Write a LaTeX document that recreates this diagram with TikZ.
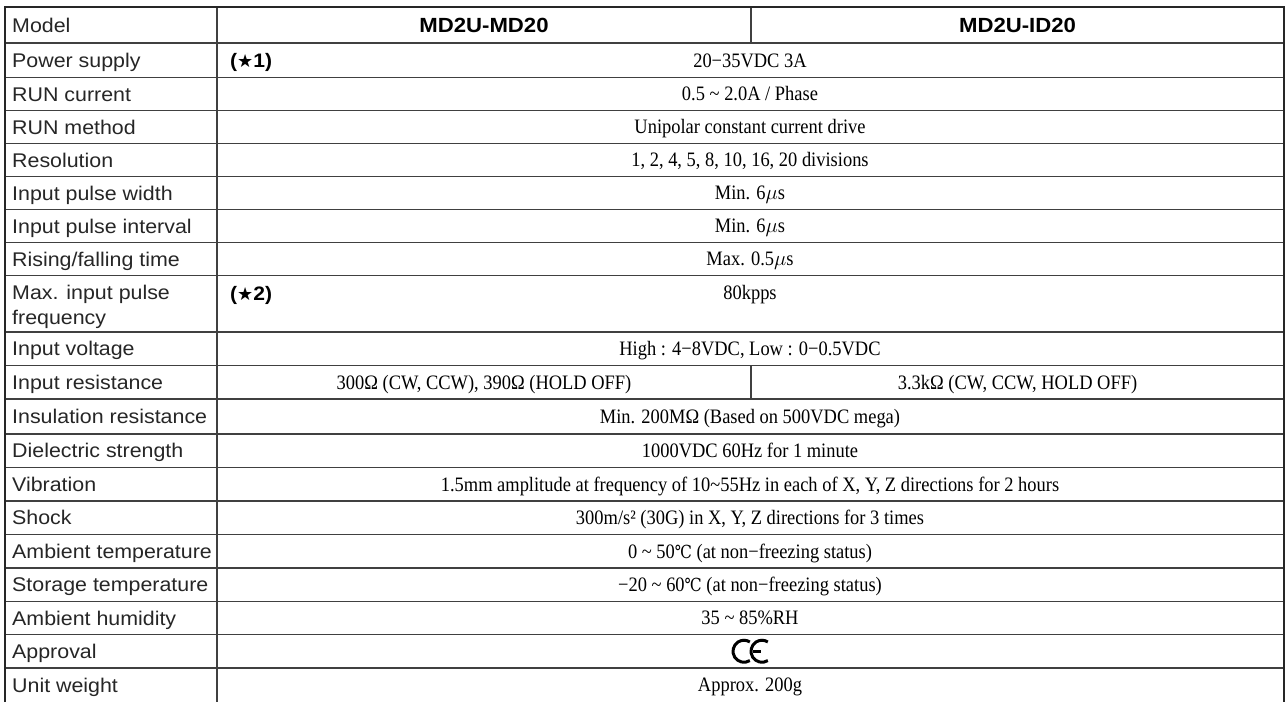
\documentclass[tikz,border=0pt]{standalone}
\usepackage{fontspec}
\setmainfont{Liberation Serif}[FakeStretch=0.9]
\setsansfont{Liberation Sans}[FakeStretch=1.08]
\newfontfamily\symbfont{DejaVu Sans}
\newfontfamily\degfont{DejaVu Serif}[FakeStretch=0.85]
\usetikzlibrary{positioning}
\tikzstyle{rowname} = [anchor=base west, yshift=-7pt, inner sep=0pt, align=left, font=\sffamily\fontsize{19.8}{24}\selectfont, text=black!85]
\tikzstyle{valtext} = [anchor=base, yshift=-6.8pt, inner sep=0pt, font=\fontsize{20.5}{24}\selectfont]
\tikzstyle{headtext} = [anchor=base, yshift=-7.5pt, inner sep=0pt, font=\sffamily\bfseries\fontsize{20.5}{24}\selectfont]
\tikzstyle{note} = [anchor=base west, yshift=-7pt, inner sep=0pt, font=\sffamily\bfseries\fontsize{19.5}{24}\selectfont]
\tikzstyle{gridline} = [draw=black!75, line width=1.4pt]
\tikzstyle{frame} = [draw=black!85, line width=2.6pt]
\newcommand{\degc}{{\degfont\fontsize{18}{20}\selectfont ℃}}
\newcommand{\usec}{$\mu$s}
\newcommand{\starno}[1]{({\symbfont\bfseries\fontsize{18}{20}\selectfont ★}#1)}

\begin{document}
\begin{tikzpicture}[x=1pt, y=-1pt]
\useasboundingbox (0,0) rectangle (1288,702);
% grid
\foreach \yy in {43,77.5,110.5,143.5,176.5,209.5,242.5,275.5,332,365.5,399,434,467.5,501,534.5,568,601.5,634.5,668}
  \draw [gridline] (5,\yy) -- (1284,\yy);
\draw [gridline] (217,7) -- (217,702);
\draw [gridline] (751,7) -- (751,43);
\draw [gridline] (751,365.5) -- (751,399);
\draw [frame] (5,702) -- (5,7) -- (1284,7) -- (1284,702);

% left column
\foreach \name/\yy [count=\i] in {{Model}/25, {Power supply}/60.25, {RUN current}/94, {RUN method}/127,
    {Resolution}/160, {Input pulse width}/193, {Input pulse interval}/226, {Rising/falling time}/259,
    {Input voltage}/348.75, {Input resistance}/382.25,
    {Insulation resistance}/416.5, {Dielectric strength}/450.75, {Vibration}/484.25, {Shock}/517.75,
    {Ambient temperature}/551.25, {Storage temperature}/584.75, {Ambient humidity}/618,
    {Approval}/651.25, {Unit weight}/685}
  \node (item\i) [rowname] at (12,\yy) {\name};
\node (itemmax) [rowname] at (12,317) {Max. input pulse\\[1pt]frequency};

% header
\node (md) [headtext] at (484,25) {MD2U-MD20};
\node (id) [headtext] at (1017.5,25) {MD2U-ID20};

% notes
\node (note1) [note] at (230,60.25) {\starno{1}};
\node (note2) [note] at (230,293) {\starno{2}};

% values
\node (power) [valtext] at (750,60.25) {20−35VDC 3A};
\node (runcur) [valtext] at (750,94) {0.5 \textasciitilde{} 2.0A / Phase};
\node (runmeth) [valtext] at (750,127) {Unipolar constant current drive};
\node (resol) [valtext] at (750,160) {1, 2, 4, 5, 8, 10, 16, 20 divisions};
\node (pwidth) [valtext] at (750,193) {Min. 6\usec};
\node (pint) [valtext] at (750,226) {Min. 6\usec};
\node (rise) [valtext] at (750,259) {Max. 0.5\usec};
\node (maxfreq) [valtext] at (750,293) {80kpps};
\node (involt) [valtext] at (750,348.75) {High : 4−8VDC, Low : 0−0.5VDC};
\node (inresmd) [valtext] at (484,382.25) {300Ω (CW, CCW), 390Ω (HOLD OFF)};
\node (inresid) [valtext] at (1017.5,382.25) {3.3kΩ (CW, CCW, HOLD OFF)};
\node (insul) [valtext] at (750,416.5) {Min. 200MΩ (Based on 500VDC mega)};
\node (diel) [valtext] at (750,450.75) {1000VDC 60Hz for 1 minute};
\node (vibr) [valtext] at (750,484.25) {1.5mm amplitude at frequency of 10\textasciitilde55Hz in each of X, Y, Z directions for 2 hours};
\node (shock) [valtext] at (750,517.75) {300m/s² (30G) in X, Y, Z directions for 3 times};
\node (ambt) [valtext] at (750,551.25) {0 \textasciitilde{} 50\degc{} (at non−freezing status)};
\node (stort) [valtext] at (750,584.75) {−20 \textasciitilde{} 60\degc{} (at non−freezing status)};
\node (humid) [valtext] at (750,618) {35 \textasciitilde{} 85\%RH};
\node (weight) [valtext] at (750,685) {Approx. 200g};

% CE mark
\coordinate (cemark) at (753,651.25);
\draw [line width=3pt] ([xshift=-9pt]cemark) ++(58:11) arc (58:302:11);
\draw [line width=3pt] ([xshift=9pt]cemark) ++(58:11) arc (58:302:11);
\draw [line width=2.6pt] ([xshift=0pt]cemark) -- ([xshift=8pt]cemark);
\end{tikzpicture}
\end{document}
